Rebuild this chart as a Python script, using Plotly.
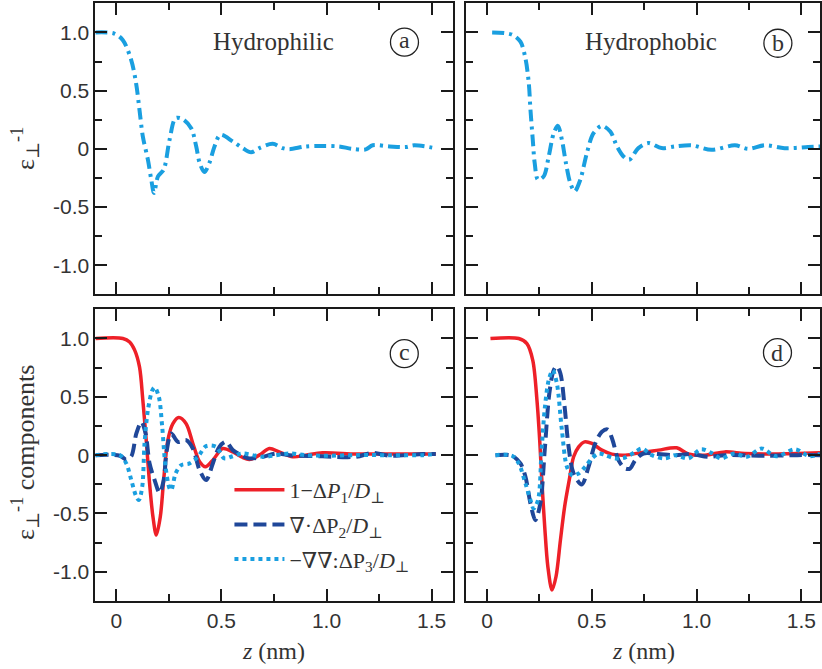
import plotly.graph_objects as go
from plotly.subplots import make_subplots

# ---------------- data ----------------
# Panel (a) Hydrophilic : total inverse permittivity
a_z = [-0.10, -0.01, 0.031, 0.071, 0.094, 0.11, 0.126, 0.15, 0.166, 0.179, 0.198, 0.225,
       0.253, 0.282, 0.316, 0.356, 0.38, 0.396, 0.419, 0.443, 0.467, 0.495, 0.554, 0.601,
       0.641, 0.68, 0.744, 0.791, 0.823, 0.90, 0.98, 1.06, 1.12, 1.187, 1.22, 1.30, 1.377,
       1.417, 1.503]
a_eps = [1.0, 0.99, 0.933, 0.76, 0.56, 0.334, 0.105, -0.094, -0.265, -0.38, -0.237, -0.18,
         0.077, 0.263, 0.254, 0.177, 0.02, -0.12, -0.20, -0.12, 0.02, 0.12, 0.063, 0.006,
         -0.03, 0.006, 0.043, 0.006, -0.003, 0.02, 0.025, 0.02, 0.0, -0.005, 0.03, 0.02, 0.015,
         0.03, 0.01]

# Panel (b) Hydrophobic : total inverse permittivity
b_z = [0.024, 0.119, 0.159, 0.183, 0.199, 0.207, 0.218, 0.227, 0.243, 0.27, 0.294, 0.318,
       0.338, 0.357, 0.376, 0.397, 0.418, 0.445, 0.476, 0.508, 0.548, 0.588, 0.62, 0.651,
       0.678, 0.722, 0.77, 0.833, 0.897, 0.976, 1.071, 1.183, 1.246, 1.326, 1.42, 1.532, 1.59]
b_eps = [1.0, 0.98, 0.92, 0.776, 0.562, 0.334, 0.077, -0.12, -0.265, -0.237, -0.066, 0.134,
         0.197, 0.077, -0.12, -0.294, -0.365, -0.265, -0.037, 0.134, 0.197, 0.148, 0.02, -0.066,
         -0.094, 0.006, 0.049, 0.006, 0.02, 0.03, -0.009, 0.03, 0.0, 0.03, 0.005, 0.015, 0.02]

# Panel (c) Hydrophilic components
c1_z = [-0.10, 0.031, 0.063, 0.087, 0.11, 0.126, 0.142, 0.158, 0.174, 0.19, 0.209, 0.225,
        0.245, 0.269, 0.297, 0.332, 0.364, 0.396, 0.424, 0.459, 0.506, 0.554, 0.601, 0.633,
        0.68, 0.728, 0.775, 0.839, 0.902, 0.981, 1.14, 1.30, 1.52]
c1_val = [1.0, 1.0, 0.97, 0.90, 0.756, 0.47, 0.128, -0.242, -0.528, -0.685, -0.528, -0.214,
          0.128, 0.27, 0.323, 0.27, 0.10, -0.057, -0.10, -0.043, 0.057, 0.028, -0.02, -0.037,
          0.0, 0.057, 0.028, -0.014, 0.0, 0.02, 0.01, 0.01, 0.01]
c2_z = [-0.10, 0.016, 0.047, 0.071, 0.095, 0.119, 0.139, 0.158, 0.182, 0.206, 0.225, 0.24,
        0.261, 0.293, 0.332, 0.364, 0.396, 0.427, 0.459, 0.49, 0.522, 0.554, 0.594, 0.633,
        0.696, 0.76, 0.823, 0.98, 1.14, 1.22, 1.30, 1.46, 1.52]
c2_val = [0.0, -0.005, -0.037, -0.01, 0.186, 0.285, 0.186, -0.071, -0.214, -0.323, -0.214,
          0.043, 0.186, 0.114, 0.128, 0.057, -0.128, -0.214, -0.071, 0.071, 0.114, 0.043, 0.0,
          -0.028, -0.014, 0.014, 0.0, -0.01, -0.014, 0.02, -0.005, 0.01, 0.01]
c3_z = [-0.10, 0.016, 0.047, 0.071, 0.095, 0.107, 0.123, 0.134, 0.15, 0.171, 0.182, 0.202,
        0.218, 0.234, 0.253, 0.261, 0.282, 0.309, 0.348, 0.388, 0.427, 0.475, 0.514, 0.546,
        0.601, 0.696, 0.823, 0.90, 0.98, 1.14, 1.30, 1.46, 1.51]
c3_val = [0.0, 0.0, -0.071, -0.214, -0.357, -0.385, -0.271, 0.10, 0.385, 0.556, 0.58, 0.50,
          0.243, -0.10, -0.285, -0.30, -0.157, -0.085, -0.071, -0.014, 0.077, 0.071, -0.028,
          -0.014, 0.014, -0.014, 0.014, 0.0, -0.005, 0.0, 0.0, 0.0, 0.01]

# Panel (d) Hydrophobic components
d1_z = [0.016, 0.151, 0.19, 0.218, 0.238, 0.251, 0.262, 0.275, 0.29, 0.31, 0.329, 0.35,
        0.37, 0.392, 0.413, 0.437, 0.465, 0.50, 0.548, 0.595, 0.659, 0.754, 0.818, 0.905,
        0.96, 1.04, 1.135, 1.23, 1.373, 1.589]
d1_val = [1.0, 1.0, 0.956, 0.813, 0.47, 0.128, -0.242, -0.614, -0.956, -1.156, -1.04, -0.728,
          -0.442, -0.214, -0.014, 0.071, 0.114, 0.10, 0.043, 0.009, 0.0, 0.028, 0.043, 0.063,
          0.01, 0.0, 0.028, 0.014, 0.01, 0.02]
d2_z = [0.04, 0.119, 0.159, 0.183, 0.207, 0.23, 0.254, 0.275, 0.297, 0.318, 0.333, 0.35,
        0.37, 0.389, 0.413, 0.452, 0.484, 0.516, 0.548, 0.576, 0.599, 0.627, 0.659, 0.683,
        0.707, 0.746, 0.818, 0.897, 0.976, 1.056, 1.135, 1.325, 1.48, 1.589]
d2_val = [0.0, -0.005, -0.071, -0.185, -0.414, -0.557, -0.414, 0.043, 0.528, 0.728, 0.762,
          0.70, 0.414, 0.071, -0.157, -0.251, -0.10, 0.10, 0.20, 0.22, 0.128, -0.043, -0.114,
          -0.114, -0.043, 0.014, 0.009, 0.0, 0.009, -0.014, 0.0, -0.005, 0.0, 0.0]
d3_z = [0.04, 0.119, 0.151, 0.183, 0.207, 0.222, 0.243, 0.26, 0.276, 0.294, 0.313, 0.333,
        0.357, 0.381, 0.405, 0.437, 0.468, 0.50, 0.532, 0.564, 0.612, 0.659, 0.707, 0.739,
        0.786, 0.85, 0.897, 0.96, 1.02, 1.07, 1.116, 1.18, 1.24, 1.31, 1.38, 1.47, 1.54, 1.589]
d3_val = [0.0, -0.005, -0.071, -0.243, -0.385, -0.457, -0.385, 0.043, 0.414, 0.642, 0.728,
          0.614, 0.214, -0.10, -0.171, -0.157, -0.10, -0.028, 0.014, 0.0, -0.028, -0.02, 0.028,
          0.057, 0.0, -0.028, 0.0, -0.028, 0.05, 0.02, -0.028, 0.014, -0.014, 0.057, -0.01,
          0.05, -0.01, 0.014]

x_tickvals = [0, 0.5, 1.0, 1.5]
x_ticktext = ["0", "0.5", "1.0", "1.5"]
y_tickvals = [1.0, 0.5, 0, -0.5, -1.0]
y_ticktext = ["1.0", "0.5", "0", "-0.5", "-1.0"]

legend_names = ["1\u2212\u0394<i>P</i><sub>1</sub>/<i>D</i><sub>\u22a5</sub>",
                "\u2207\u00b7\u0394P<sub>2</sub>/<i>D</i><sub>\u22a5</sub>",
                "\u2212\u2207\u2207:\u0394P<sub>3</sub>/<i>D</i><sub>\u22a5</sub>"]

# ---------------- style ----------------
CYAN = "#1a9fe0"
RED = "#ee2028"
NAVY = "#1f4799"
SERIF = "'Liberation Serif', 'Times New Roman', 'DejaVu Serif', serif"
SANS = "'Liberation Sans', Arial, sans-serif"
W, H = 822, 669

fig = make_subplots(rows=2, cols=2)

dashdot = "12px,5px,3px,5px"
dashed = "13px,6px"
dotted = "4px,4px"

fig.add_trace(go.Scatter(x=a_z, y=a_eps, mode="lines", showlegend=False,
                         line=dict(color=CYAN, width=4, dash=dashdot, shape="spline", smoothing=0.9)),
              row=1, col=1)
fig.add_trace(go.Scatter(x=b_z, y=b_eps, mode="lines", showlegend=False,
                         line=dict(color=CYAN, width=4, dash=dashdot, shape="spline", smoothing=0.9)),
              row=1, col=2)

styles = [(RED, 3.5, "solid"), (NAVY, 4, dashed), (CYAN, 4, dotted)]
c_sets = [(c1_z, c1_val), (c2_z, c2_val), (c3_z, c3_val)]
d_sets = [(d1_z, d1_val), (d2_z, d2_val), (d3_z, d3_val)]
for i, ((zx, vv), (col, lw, ds)) in enumerate(zip(c_sets, styles)):
    fig.add_trace(go.Scatter(x=zx, y=vv, mode="lines", name=legend_names[i],
                             legendgroup="g%d" % i, showlegend=True,
                             line=dict(color=col, width=lw, dash=ds, shape="spline", smoothing=0.9)),
                  row=2, col=1)
for i, ((zx, vv), (col, lw, ds)) in enumerate(zip(d_sets, styles)):
    fig.add_trace(go.Scatter(x=zx, y=vv, mode="lines", showlegend=False,
                             line=dict(color=col, width=lw, dash=ds, shape="spline", smoothing=0.9)),
                  row=2, col=2)

# domains in pixels
left_x = (95.6 / W, 453.7 / W)
right_x = (467.3 / W, 1.0)
top_y = (1 - 294.3 / H, 1 - 3.3 / H)
bot_y = (1 - 601.0 / H, 1 - 309.3 / H)

axis_common = dict(showline=True, linecolor="#1a1a1a", linewidth=2, mirror="ticks",
                   ticks="inside", ticklen=12, tickwidth=2, tickcolor="#1a1a1a",
                   showgrid=False, zeroline=False,
                   tickfont=dict(family=SANS, size=21, color="#333333"),
                   minor=dict(ticks="inside", ticklen=7, tickwidth=2, tickcolor="#1a1a1a",
                              dtick=0.25, showgrid=False))

panels = {1: (left_x, top_y, False, True, [-0.1, 1.6]),
          2: (right_x, top_y, False, False, [-0.1, 1.589]),
          3: (left_x, bot_y, True, True, [-0.1, 1.6]),
          4: (right_x, bot_y, True, False, [-0.1, 1.589])}
for k, (xd, yd, showx, showy, xr) in panels.items():
    sfx = "" if k == 1 else str(k)
    fig.layout["xaxis" + sfx].update(domain=list(xd), range=xr, tickvals=x_tickvals,
                                     ticktext=x_ticktext, showticklabels=showx,
                                     minor_tick0=0, **axis_common)
    fig.layout["yaxis" + sfx].update(domain=list(yd), range=[-1.25, 1.25], tickvals=y_tickvals,
                                     ticktext=y_ticktext, showticklabels=showy,
                                     minor_tick0=0, **axis_common)

TXT = "#333333"
annotations = []
# panel titles
annotations.append(dict(x=0.747, y=0.92, xref="x", yref="y", text="Hydrophilic", showarrow=False,
                        xanchor="center", yanchor="middle",
                        font=dict(family=SERIF, size=25, color=TXT)))
annotations.append(dict(x=0.783, y=0.92, xref="x2", yref="y2", text="Hydrophobic", showarrow=False,
                        xanchor="center", yanchor="middle",
                        font=dict(family=SERIF, size=25, color=TXT)))
# circled letters
letters = [("a", "x", "y", 1.371, 0.916), ("b", "x2", "y2", 1.388, 0.907),
           ("c", "x3", "y3", 1.37, 0.87), ("d", "x4", "y4", 1.386, 0.878)]
shapes = []
for t, xr_, yr_, cx, cy in letters:
    shapes.append(dict(type="circle", xref=xr_, yref=yr_, xsizemode="pixel", ysizemode="pixel",
                       xanchor=cx, yanchor=cy, x0=-14, x1=14, y0=-14, y1=14,
                       line=dict(color="#222222", width=1.3)))
    annotations.append(dict(x=cx, y=cy, xref=xr_, yref=yr_, text=t, showarrow=False,
                            xanchor="center", yanchor="middle",
                            yshift=2 if t in ("a", "c") else 0,
                            font=dict(family=SERIF, size=24, color=TXT)))
# axis titles
annotations.append(dict(x=25 / W, y=1 - 148 / H, xref="paper", yref="paper", textangle=-90,
                        xanchor="center", yanchor="middle",
                        text="\u03b5<sub>\u22a5</sub><sup>-1</sup>", showarrow=False,
                        font=dict(family=SERIF, size=26, color=TXT)))
annotations.append(dict(x=25 / W, y=1 - 452 / H, xref="paper", yref="paper", textangle=-90,
                        xanchor="center", yanchor="middle",
                        text="\u03b5<sub>\u22a5</sub><sup>-1</sup> components", showarrow=False,
                        font=dict(family=SERIF, size=26, color=TXT)))
for cxp in (274, 645):
    annotations.append(dict(x=cxp / W, y=1 - 651 / H, xref="paper", yref="paper",
                            xanchor="center", yanchor="middle",
                            text="<i>z</i> (nm)", showarrow=False,
                            font=dict(family=SERIF, size=24, color=TXT)))

fig.update_layout(
    width=W, height=H, margin=dict(l=0, r=0, t=0, b=0),
    paper_bgcolor="white", plot_bgcolor="white",
    annotations=annotations, shapes=shapes,
    legend=dict(x=230 / W, y=1 - 469 / H, xanchor="left", yanchor="top",
                bgcolor="rgba(0,0,0,0)", itemwidth=50, tracegroupgap=3,
                font=dict(family=SERIF, size=22, color=TXT)),
)

fig.write_html("out.html")
